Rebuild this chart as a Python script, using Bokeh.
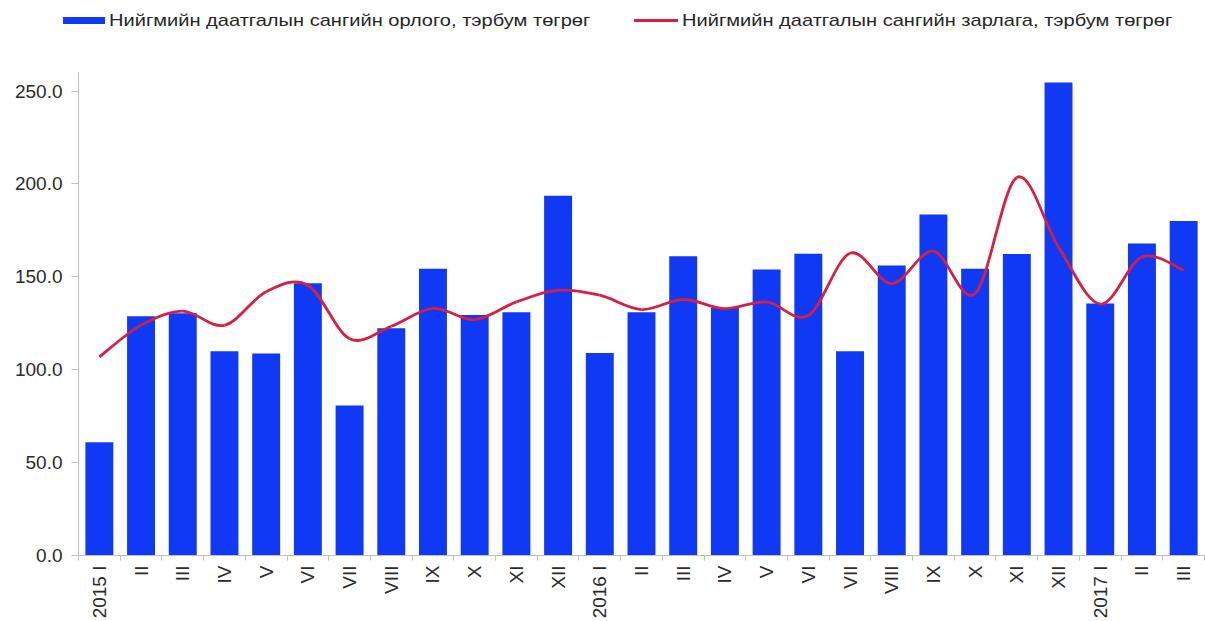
import numpy as np
from bokeh.plotting import figure
from bokeh.layouts import column
from bokeh.models import (Range1d, FixedTicker, NumeralTickFormatter, ColumnDataSource, Div)
from bokeh.embed import file_html
from bokeh.resources import INLINE

categories = ["2015 I", "II", "III", "IV", "V", "VI", "VII", "VIII", "IX", "X", "XI", "XII",
              "2016 I", "II", "III", "IV", "V", "VI", "VII", "VIII", "IX", "X", "XI", "XII",
              "2017 I", "II", "III"]
revenue = [61.0, 128.8, 130.4, 109.9, 108.8, 146.6, 80.8, 122.3, 154.4, 129.5, 130.9, 193.7,
           109.0, 131.0, 161.1, 133.2, 154.0, 162.5, 109.9, 156.1, 183.5, 154.3, 162.3, 254.6,
           135.7, 167.9, 180.0]
expense = [106.9, 124.0, 131.6, 123.9, 142.0, 145.5, 116.7, 123.4, 133.0, 127.0, 136.5, 142.8,
           140.1, 132.4, 137.8, 132.9, 136.5, 129.2, 162.7, 146.4, 163.8, 141.0, 203.5, 166.0,
           135.3, 160.7, 153.6]
label_rev = "Нийгмийн даатгалын сангийн орлого, тэрбум төгрөг"
label_exp = "Нийгмийн даатгалын сангийн зарлага, тэрбум төгрөг"
y_ticks = [0, 50, 100, 150, 200, 250]

FONT = "Liberation Sans"
BLUE = "#1039F5"
RED = "#D91F3F"
W = 1205

n = len(categories)
xs = np.arange(n, dtype=float)

# ---------------- legend strip (HTML text) ----------------
txt = ("position:absolute;top:9px;line-height:23px;white-space:nowrap;"
       "transform:scaleX(1.18);transform-origin:0 50%;")
legend_html = (
    f'<div style="position:relative;width:{W}px;height:40px;font-family:\'{FONT}\';'
    f'font-size:17px;color:#262626;">'
    f'<div style="position:absolute;left:63px;top:17px;width:42px;height:7px;background:{BLUE};"></div>'
    f'<div style="{txt}left:109px;">{label_rev}</div>'
    f'<div style="position:absolute;left:634px;top:19px;width:44px;height:3px;background:{RED};"></div>'
    f'<div style="{txt}left:682px;">{label_exp}</div>'
    '</div>'
)
legend_div = Div(text=legend_html, width=W, height=40, margin=0)

# ---------------- main chart ----------------
p = figure(width=W, height=581, output_backend="svg", toolbar_location=None,
           x_range=Range1d(-0.5, n - 0.5), y_range=Range1d(0, 260),
           min_border_left=78, min_border_right=1, min_border_top=32, min_border_bottom=66)
p.outline_line_color = None
p.xgrid.grid_line_color = None
p.ygrid.grid_line_color = None

p.vbar(x=xs, top=revenue, width=0.67, bottom=0, fill_color=BLUE, line_color=None)

# smoothed line through the expense points (cubic Bezier segments, Catmull-Rom controls)
P = np.column_stack([xs, np.array(expense, dtype=float)])
Pext = np.vstack([P[0], P, P[-1]])
x0, y0, x1, y1, cx0, cy0, cx1, cy1 = [], [], [], [], [], [], [], []
for i in range(n - 1):
    pm, pa, pb, pp = Pext[i], Pext[i + 1], Pext[i + 2], Pext[i + 3]
    c0 = pa + (pb - pm) / 6.0
    c1 = pb - (pp - pa) / 6.0
    x0.append(pa[0]); y0.append(pa[1]); x1.append(pb[0]); y1.append(pb[1])
    cx0.append(c0[0]); cy0.append(c0[1]); cx1.append(c1[0]); cy1.append(c1[1])
src = ColumnDataSource(dict(x0=x0, y0=y0, x1=x1, y1=y1, cx0=cx0, cy0=cy0, cx1=cx1, cy1=cy1))
p.bezier(x0="x0", y0="y0", x1="x1", y1="y1", cx0="cx0", cy0="cy0", cx1="cx1", cy1="cy1",
         source=src, line_color=RED, line_width=2.8)

# y axis
ya = p.yaxis[0]
ya.ticker = FixedTicker(ticks=y_ticks, minor_ticks=[])
ya.formatter = NumeralTickFormatter(format="0.0")
ya.axis_line_color = "#BFBFBF"
ya.major_tick_line_color = "#BFBFBF"
ya.major_tick_out = 7
ya.major_tick_in = 0
ya.minor_tick_line_color = None
ya.major_label_standoff = 9
ya.major_label_text_font = FONT
ya.major_label_text_font_size = "19px"
ya.major_label_text_color = "#2B2B2B"

# x axis
xa = p.xaxis[0]
xa.ticker = FixedTicker(ticks=list(xs), minor_ticks=list(np.arange(n + 1) - 0.5))
xa.major_label_overrides = {float(i): c for i, c in enumerate(categories)}
xa.major_label_orientation = np.pi / 2
xa.axis_line_color = "#BFBFBF"
xa.major_tick_line_color = None
xa.major_tick_out = 5
xa.major_tick_in = 0
xa.minor_tick_line_color = "#BFBFBF"
xa.minor_tick_out = 5
xa.minor_tick_in = 0
xa.major_label_standoff = 5
xa.major_label_text_font = FONT
xa.major_label_text_font_size = "19px"
xa.major_label_text_color = "#2B2B2B"

layout = column(legend_div, p, spacing=0)
open("out.html", "w").write(file_html(layout, INLINE))
